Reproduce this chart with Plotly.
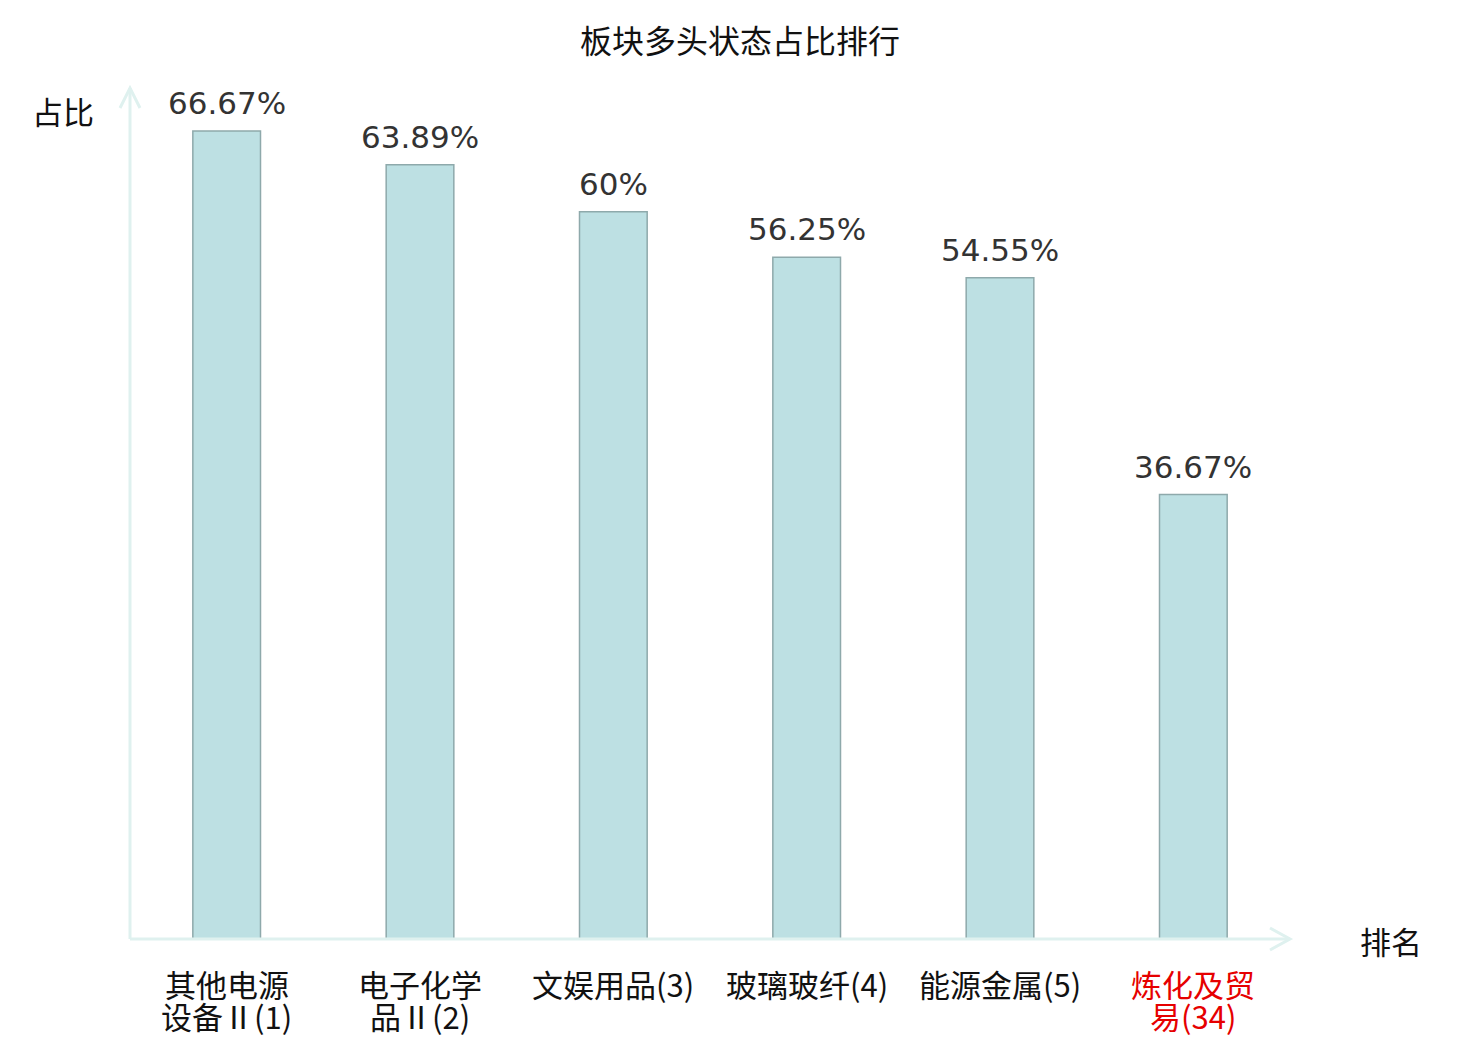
import plotly.graph_objects as go

# data
categories = ["其他电源<br>设备Ⅱ(1)", "电子化学<br>品Ⅱ(2)", "文娱用品(3)", "玻璃玻纤(4)", "能源金属(5)", "炼化及贸<br>易(34)"]
shares = [66.67, 63.89, 60, 56.25, 54.55, 36.67]
highlight = [False, False, False, False, False, True]

W, H = 1480, 1040
L, T = 130, 88
pw, ph = 1160, 851
R, B = W - L - pw, H - T - ph

axis_color = "#dff1ef"
font_cjk = "Noto Sans CJK SC"
font_num = "DejaVu Sans"

x_idx = list(range(len(categories)))

fig = go.Figure()
fig.add_trace(go.Bar(
    x=x_idx,
    y=shares,
    width=0.35,
    marker=dict(color="#bde0e3", line=dict(color="#8ea9ab", width=1.5)),
    hoverinfo="skip",
))

# value labels above bars
for i, v in zip(x_idx, shares):
    fig.add_annotation(
        x=i, y=v, text=f"{v:g}%", showarrow=False,
        xanchor="center", yanchor="bottom", yshift=8,
        font=dict(family=font_num, size=31, color="#333333"),
    )

# category labels under the axis, one annotation per line (tight line spacing)
for i, (cat, h) in enumerate(zip(categories, highlight)):
    color = "#e60000" if h else "#111111"
    for k, part in enumerate(cat.split("<br>")):
        fig.add_annotation(
            x=i, xref="x", y=0, yref="paper", text=part, showarrow=False,
            xanchor="center", yanchor="middle", yshift=-44 - 32 * k,
            font=dict(family=font_cjk, size=31, color=color),
        )

# axis lines with open arrow heads (paper coords)
line = dict(color=axis_color, width=3)
ax_w, ax_l = 11 / ph, 20 / pw
ay_w, ay_l = 10 / pw, 20 / ph
fig.add_shape(type="line", xref="paper", yref="paper", x0=0, y0=0, x1=1, y1=0, line=line)
fig.add_shape(type="path", xref="paper", yref="paper",
              path=f"M {1 - ax_l} {ax_w} L 1 0 L {1 - ax_l} {-ax_w}", line=line)
fig.add_shape(type="line", xref="paper", yref="paper", x0=0, y0=0, x1=0, y1=1, line=line)
fig.add_shape(type="path", xref="paper", yref="paper",
              path=f"M {-ay_w} {1 - ay_l} L 0 1 L {ay_w} {1 - ay_l}", line=line)

# axis names
fig.add_annotation(xref="paper", yref="paper", x=-67 / pw, y=(ph - 22) / ph,
                   xanchor="center", yanchor="middle",
                   text="占比", showarrow=False,
                   font=dict(family=font_cjk, size=31, color="#111111"))
fig.add_annotation(xref="paper", yref="paper", x=1 + 101 / pw, y=-2 / ph,
                   xanchor="center", yanchor="middle",
                   text="排名", showarrow=False,
                   font=dict(family=font_cjk, size=31, color="#111111"))

fig.update_layout(
    width=W, height=H,
    margin=dict(l=L, r=R, t=T, b=B, autoexpand=False),
    plot_bgcolor="white", paper_bgcolor="white",
    showlegend=False,
    title=dict(text="板块多头状态占比排行", x=0.5, xanchor="center",
               y=1 - 42 / H, yanchor="middle",
               font=dict(family=font_cjk, size=32, color="#111111")),
    xaxis=dict(
        range=[-0.5, len(categories) - 0.5],
        showgrid=False, zeroline=False, showline=False, ticks="",
        showticklabels=False, automargin=False,
        fixedrange=True,
    ),
    yaxis=dict(
        range=[0, 851 / 12.12],
        showgrid=False, zeroline=False, showline=False,
        showticklabels=False, ticks="", automargin=False,
        fixedrange=True,
    ),
)

# drop the default 8px page margin so the figure fills the window
fig.write_html(
    "out.html",
    config={"displayModeBar": False},
    post_script="document.body.style.margin='0';",
)
